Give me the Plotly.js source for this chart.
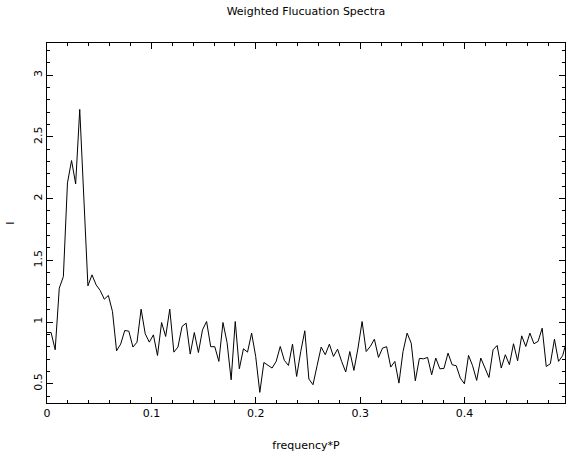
<!DOCTYPE html>
<html>
<head>
<meta charset="utf-8">
<script src="https://cdn.plot.ly/plotly-3.0.1.min.js"></script>
<style>html,body{margin:0;padding:0;background:#fff;}#chart{width:574px;height:452px;}</style>
</head>
<body>
<div id="chart"></div>
<script>
// frequency grid: start and step (frequency*P)
const freqStart = 0;
const freqStep = 0.00392;
// weighted fluctuation power
const power = [
  0.915, 0.915, 0.775, 1.274, 1.368, 2.127, 2.308, 2.119, 2.722, 2.05,
  1.293, 1.382, 1.301, 1.255, 1.185, 1.215, 1.085, 0.767, 0.821, 0.931,
  0.926, 0.797, 0.837, 1.104, 0.905, 0.837, 0.896, 0.729, 0.996, 0.883,
  1.104, 0.756, 0.797, 0.964, 0.991, 0.740, 0.915, 0.753, 0.937, 1.004,
  0.800, 0.800, 0.681, 0.996, 0.834, 0.532, 1.004, 0.621, 0.783, 0.756,
  0.910, 0.721, 0.430, 0.672, 0.646, 0.627, 0.681, 0.802, 0.689, 0.648,
  0.821, 0.559, 0.760, 0.929, 0.538, 0.492, 0.646, 0.797, 0.735, 0.821,
  0.721, 0.780, 0.681, 0.595, 0.761, 0.608, 0.789, 1.004, 0.761, 0.802,
  0.861, 0.713, 0.789, 0.800, 0.635, 0.681, 0.505, 0.761, 0.910, 0.829,
  0.524, 0.705, 0.702, 0.713, 0.573, 0.708, 0.621, 0.624, 0.748, 0.654,
  0.646, 0.546, 0.500, 0.730, 0.646, 0.527, 0.708, 0.627, 0.551, 0.775,
  0.810, 0.627, 0.735, 0.654, 0.824, 0.686, 0.888, 0.802, 0.910, 0.824,
  0.843, 0.950, 0.640, 0.662, 0.861, 0.681, 0.727, 0.850
];
const xTickVals = [0, 0.1, 0.2, 0.3, 0.4];
const xTickText = ['0', '0.1', '0.2', '0.3', '0.4'];
const yTickVals = [0.5, 1, 1.5, 2, 2.5, 3];
const yTickText = ['0.5', '1', '1.5', '2', '2.5', '3'];

const font = {family: 'DejaVu Sans, Liberation Sans, sans-serif', size: 11, color: '#000'};

const trace = {
  type: 'scatter', mode: 'lines',
  x0: freqStart, dx: freqStep, y: power,
  line: {color: '#000', width: 1},
  hoverinfo: 'skip'
};

const axisCommon = {
  showgrid: false, zeroline: false,
  showline: true, linecolor: '#000', linewidth: 1, mirror: 'ticks',
  ticks: 'inside', ticklen: 6, tickwidth: 1, tickcolor: '#000',
  tickfont: font
};

const layout = {
  width: 574, height: 452,
  margin: {l: 47, r: 9, t: 43, b: 49},
  paper_bgcolor: '#fff', plot_bgcolor: '#fff',
  showlegend: false,
  font: font,
  title: {text: 'Weighted Flucuation Spectra', font: font, x: 0.533, xanchor: 'center', y: 0.975, yanchor: 'middle'},
  xaxis: Object.assign({}, axisCommon, {
    range: [0, 0.4962],
    tickmode: 'array', tickvals: xTickVals, ticktext: xTickText,
    minor: {dtick: 0.02, ticks: 'inside', ticklen: 3, tickcolor: '#000', tickwidth: 1},
    title: {text: 'frequency*P', font: font, standoff: 22}
  }),
  yaxis: Object.assign({}, axisCommon, {
    range: [0.344, 3.26],
    tickmode: 'array', tickvals: yTickVals, ticktext: yTickText,
    tickangle: -90,
    minor: {dtick: 0.1, ticks: 'inside', ticklen: 3, tickcolor: '#000', tickwidth: 1},
    title: {text: 'I', font: font, standoff: 14}
  })
};

Plotly.newPlot('chart', [trace], layout, {staticPlot: true, displayModeBar: false});
</script>
</body>
</html>
